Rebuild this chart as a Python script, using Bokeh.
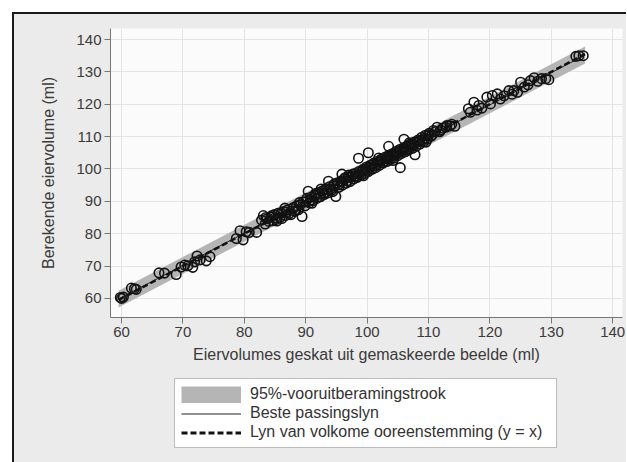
from bokeh.plotting import figure
from bokeh.models import Range1d, Legend, LegendItem, FixedTicker
from bokeh.layouts import column
from bokeh.embed import file_html
from bokeh.resources import INLINE

# ---- data ----
est_vol = [59.8, 60.0, 60.3, 61.6, 62.1, 62.4, 66.1, 67.0, 68.9, 69.7, 70.3, 70.8, 71.6, 71.9, 72.3, 72.8, 73.8, 74.4,
           78.7, 79.3, 79.8, 80.3, 80.8, 82.0,
           82.8, 83.1, 83.4, 83.7, 84.0, 84.3, 84.6, 84.9, 85.2, 85.5, 85.8, 86.1, 86.4, 86.7, 87.0, 87.3, 87.6, 87.9,
           88.2, 88.5, 88.8, 89.1, 89.4, 89.6, 89.9, 90.2, 90.4, 90.6, 90.9, 91.2, 91.5, 91.8, 92.1, 92.4, 92.7, 93.0,
           93.3, 93.6, 93.9, 94.2, 94.5, 94.9, 95.1, 95.4, 95.7, 96.0, 96.3, 96.6, 96.9, 97.2, 97.5, 97.8, 98.1, 98.4,
           98.6, 98.7, 99.0, 99.3, 99.6, 99.9, 100.2, 100.5, 100.8, 101.1, 101.4, 101.7, 102.0, 102.3, 102.6, 102.9,
           103.2, 103.5, 103.8, 104.1, 104.4, 104.7, 105.0, 105.4, 105.3, 105.6, 105.9, 106.2, 106.5, 106.8, 107.1,
           107.4, 107.8, 107.7, 108.0, 108.3, 108.6, 108.9, 109.2, 109.5, 109.8, 110.1, 110.4, 110.8, 111.4, 111.8,
           112.3, 113.0, 113.8, 114.3,
           84.5, 85.0, 86.0, 86.9, 88.0, 89.0, 90.0, 90.8, 91.6, 92.3, 92.9, 93.5, 94.0, 94.7, 95.3, 95.9, 96.4, 96.8,
           97.3, 97.7, 98.2, 98.8, 99.2, 99.7, 100.0, 100.4, 100.9, 101.3, 101.6, 102.1, 102.5, 102.8, 103.1, 103.4,
           103.7, 104.0, 104.3, 104.6, 104.9, 105.2, 105.5, 105.8, 106.1, 106.4, 106.7, 107.0, 107.3, 107.6, 108.1,
           108.5, 109.0, 109.4, 110.0, 110.6, 111.1, 112.0, 112.8, 113.5,
           93.7, 95.9, 103.5, 106.0, 100.2,
           83.5, 85.3, 86.6, 88.4, 91.0, 92.5, 94.4, 97.0, 99.4, 101.9, 104.2, 106.9, 109.6,
           116.5, 116.8, 117.4, 117.9, 118.2, 118.7, 119.5, 120.1, 120.4, 121.2, 121.7, 122.3, 123.1, 123.6, 123.9,
           124.5, 125.0, 125.6, 126.2, 126.6, 127.2, 127.8, 128.4, 129.1, 129.6, 134.0, 134.5, 135.2]
calc_vol = [60.3, 60.0, 60.4, 63.2, 63.0, 62.8, 67.9, 67.8, 67.4, 69.7, 70.3, 70.1, 69.6, 71.3, 73.1, 71.9, 71.6, 72.9,
            78.5, 80.9, 78.1, 80.6, 80.4, 80.4,
            84.2, 85.6, 83.0, 84.6, 83.8, 85.2, 84.0, 85.9, 84.4, 86.3, 85.0, 84.7, 86.8, 85.6, 87.3, 86.2, 85.9, 87.7,
            86.9, 88.6, 87.4, 88.9, 85.3, 89.8, 88.6, 90.9, 93.1, 89.5, 91.3, 90.2, 91.8, 90.9, 92.7, 91.4, 93.2, 92.1,
            93.9, 92.6, 94.5, 93.4, 94.9, 91.5, 95.6, 94.3, 96.2, 95.0, 96.8, 95.6, 97.5, 96.1, 97.9, 96.9, 98.6, 97.4,
            103.3, 99.2, 98.0, 99.8, 98.6, 100.6, 99.2, 101.1, 99.9, 101.8, 100.4, 102.4, 101.1, 103.0, 101.8, 103.6,
            102.3, 104.2, 102.9, 104.7, 103.4, 105.4, 104.1, 100.4, 106.0, 104.8, 106.5, 105.3, 107.1, 105.9, 107.8,
            106.4, 104.4, 108.3, 107.0, 108.9, 107.7, 109.8, 108.4, 110.4, 109.2, 111.0, 110.1, 111.9, 112.9, 111.5,
            112.6, 113.4, 113.8, 113.2,
            85.6, 84.9, 86.4, 86.7, 88.1, 89.6, 89.9, 90.4, 92.4, 92.2, 92.5, 93.6, 93.8, 95.4, 95.1, 96.0, 97.3, 96.3,
            97.4, 98.4, 97.9, 98.5, 99.3, 100.0, 99.6, 100.5, 101.3, 101.0, 101.7, 102.2, 102.9, 102.4, 103.2, 103.7,
            103.5, 104.1, 104.5, 104.3, 105.1, 105.3, 105.6, 105.7, 106.3, 106.1, 106.8, 107.2, 107.1, 107.6, 108.2,
            108.6, 108.9, 109.5, 110.3, 110.5, 111.5, 112.0, 112.9, 113.3,
            96.2, 98.4, 107.0, 109.2, 105.0,
            85.0, 83.9, 87.9, 87.2, 89.4, 93.8, 93.0, 98.1, 97.9, 103.4, 102.6, 108.1, 108.3,
            118.6, 117.5, 120.6, 118.2, 119.6, 118.8, 122.2, 120.1, 122.7, 123.2, 121.6, 122.6, 124.2, 123.1, 124.2,
            123.7, 126.8, 125.3, 126.0, 127.3, 128.2, 127.1, 127.9, 127.9, 127.6, 134.8, 135.0, 135.0]

line_x = [59.5, 135.5]
fit_y = [59.8, 135.2]
band_lo = [57.2, 132.6]
band_hi = [62.4, 137.8]
perfect_y = [59.5, 135.5]

ticks = [60, 70, 80, 90, 100, 110, 120, 130, 140]
labels = ["95%-vooruitberamingstrook", "Beste passingslyn", "Lyn van volkome ooreenstemming (y = x)"]

FONT = "Liberation Sans"
OUTER = "#ebebeb"
BAND = "#b5b5b5"

p = figure(width=612, height=354, output_backend="svg", toolbar_location=None,
           x_range=Range1d(58.2, 141.6), y_range=Range1d(54.1, 143.4),
           min_border_left=96, min_border_right=4, min_border_top=14, min_border_bottom=51)
p.background_fill_color = "#fbfbfb"
p.border_fill_color = OUTER
p.outline_line_color = None

band = p.varea(x=line_x, y1=band_lo, y2=band_hi, fill_color=BAND)
p.scatter(est_vol, calc_vol, marker="circle", size=9.5, fill_color=None,
          line_color="#121212", line_width=1.6)
fit = p.line(line_x, fit_y, line_color="#222222", line_width=1)
perf = p.line(line_x, perfect_y, line_color="#111111", line_width=2.5, line_dash="6 3")

for ax in (p.xaxis[0], p.yaxis[0]):
    ax.ticker = FixedTicker(ticks=ticks)
    ax.axis_line_color = "#777777"
    ax.major_tick_line_color = "#777777"
    ax.major_tick_out = 6
    ax.major_tick_in = 0
    ax.minor_tick_line_color = None
    ax.major_label_text_font = FONT
    ax.major_label_text_font_size = "15px"
    ax.major_label_text_color = "#3a3a3a"
    ax.axis_label_text_font = FONT
    ax.axis_label_text_font_size = "16px"
    ax.axis_label_text_font_style = "normal"
    ax.axis_label_text_color = "#3a3a3a"
    ax.major_label_standoff = 3

p.xaxis.axis_label = "Eiervolumes geskat uit gemaskeerde beelde (ml)"
p.yaxis.axis_label = "Berekende eiervolume (ml)"
p.xaxis.axis_label_standoff = 6
p.yaxis.axis_label_standoff = 16

p.xgrid.ticker = FixedTicker(ticks=ticks)
p.ygrid.ticker = FixedTicker(ticks=ticks)
p.grid.grid_line_color = "#e4e4e4"
p.grid.grid_line_width = 1

# legend panel (separate figure underneath; its glyphs lie outside its ranges,
# so only their legend swatches show)
lf = figure(width=612, height=94, output_backend="svg", toolbar_location=None,
            x_range=Range1d(0, 1), y_range=Range1d(0, 1),
            x_axis_type=None, y_axis_type=None,
            min_border_left=0, min_border_right=0, min_border_top=0, min_border_bottom=0)
lf.background_fill_color = OUTER
lf.border_fill_color = OUTER
lf.outline_line_color = None
lf.grid.visible = False
lg_band = lf.line(line_x, band_hi, line_color=BAND, line_width=17)
lg_fit = lf.line(line_x, fit_y, line_color="#222222", line_width=1)
lg_perf = lf.line(line_x, perfect_y, line_color="#111111", line_width=3, line_dash="6 3")

legend = Legend(items=[LegendItem(label=labels[0], renderers=[lg_band]),
                       LegendItem(label=labels[1], renderers=[lg_fit]),
                       LegendItem(label=labels[2], renderers=[lg_perf])],
                location=(64, 14), orientation="vertical")
legend.label_text_font = FONT
legend.label_text_font_size = "16px"
legend.label_text_color = "#333333"
legend.glyph_width = 60
legend.glyph_height = 17
legend.label_height = 17
legend.label_standoff = 9
legend.label_width = 300
legend.spacing = 1
legend.padding = 6
legend.margin = 0
legend.border_line_color = "#777777"
legend.border_line_width = 1
legend.background_fill_color = "white"
legend.background_fill_alpha = 1
lf.add_layout(legend, "center")

layout = column(p, lf, spacing=0)
layout.margin = (12, 0, 0, 12)
layout.styles = {"border-top": "2px solid #1a1a1a", "border-left": "2px solid #1a1a1a",
                 "background-color": OUTER}

open("out.html", "w").write(file_html(layout, INLINE))
